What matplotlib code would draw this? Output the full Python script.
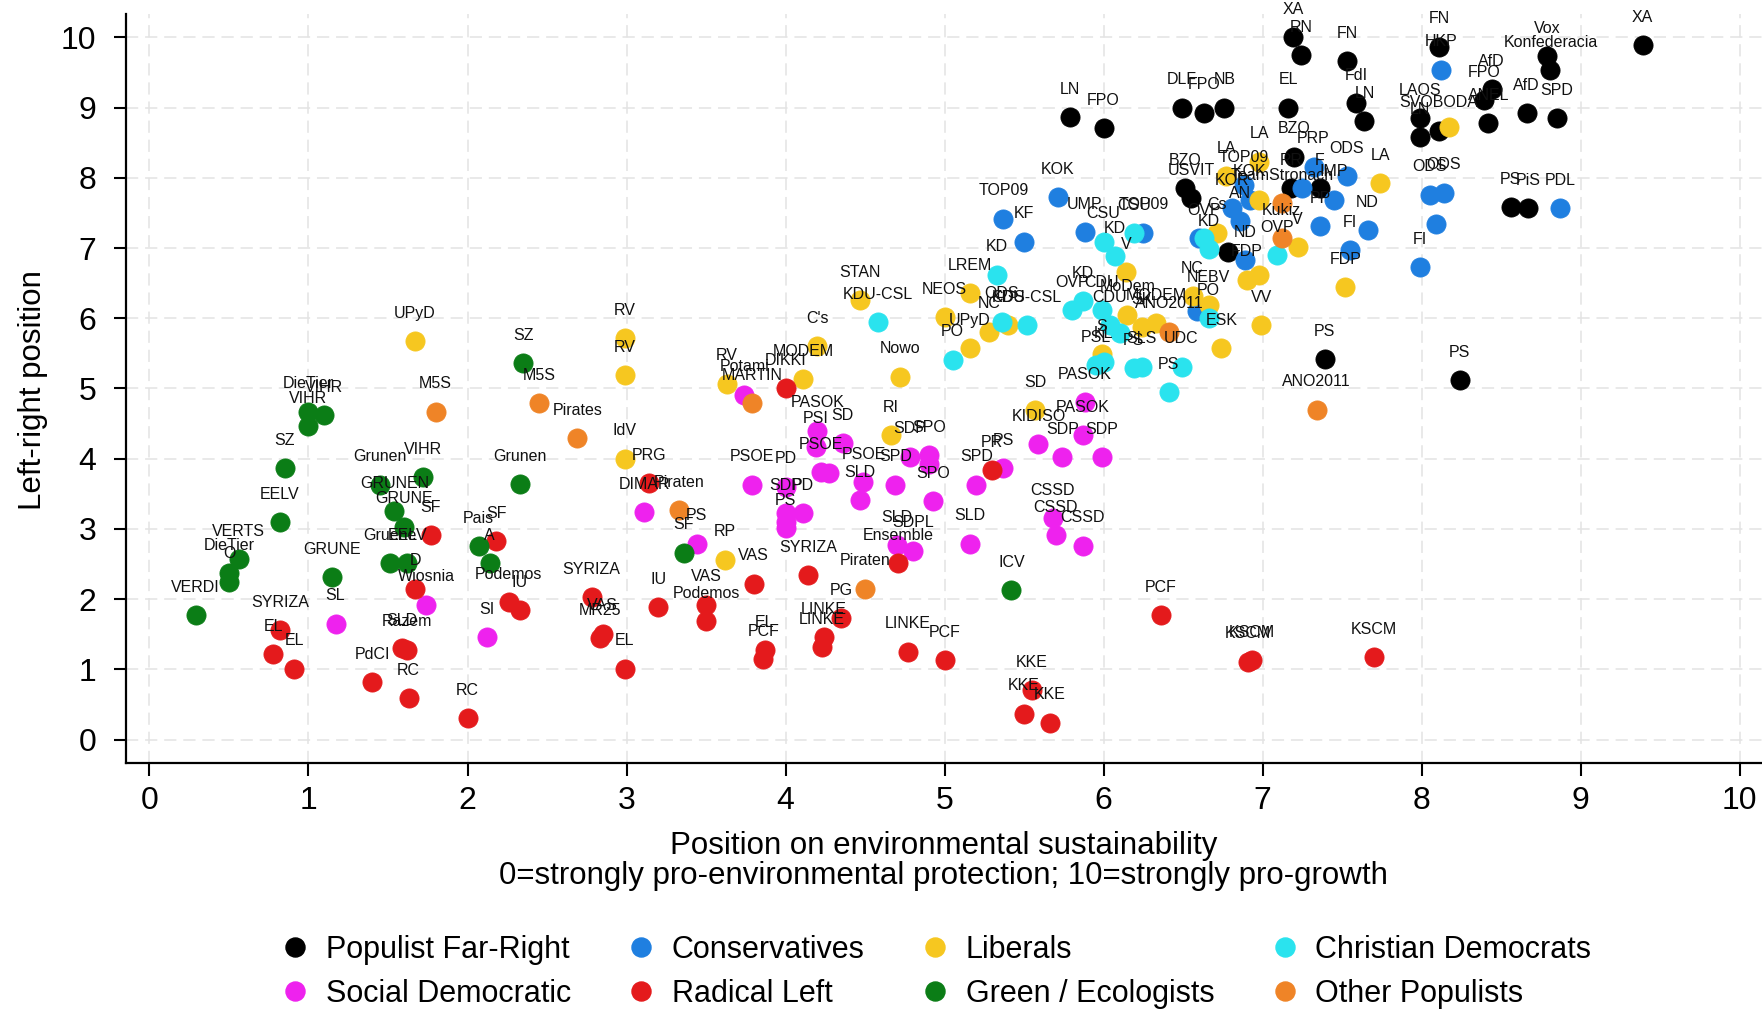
import matplotlib
matplotlib.use("Agg")
import matplotlib.pyplot as plt
from matplotlib.lines import Line2D

plt.rcParams['font.family'] = ['Liberation Sans', 'DejaVu Sans']

# ---------------- data ----------------
far_right_x = [7.19, 7.24, 7.53, 8.11, 8.79, 8.81, 9.39, 8.44, 8.39, 8.42, 8.66, 8.85, 7.99, 8.11, 7.99,
               7.59, 7.64, 7.16, 6.76, 6.63, 6.49, 5.79, 6.00, 6.51, 6.55, 7.20, 7.18, 7.36, 8.56, 8.67,
               7.39, 8.24, 6.78]
far_right_y = [10.00, 9.75, 9.66, 9.87, 9.73, 9.53, 9.89, 9.26, 9.11, 8.78, 8.92, 8.85, 8.85, 8.67, 8.58,
               9.06, 8.81, 9.00, 9.00, 8.93, 9.00, 8.86, 8.71, 7.85, 7.71, 8.30, 7.85, 7.85, 7.58, 7.57,
               5.42, 5.12, 6.95]
far_right_lab = ["XA", "RN", "FN", "FN", "Vox", "Konfederacia", "XA", "AfD", "FPO", "ANEL", "AfD", "SPD",
                 "LAOS", "SVOBODA", "LN", "FdI", "LN", "EL", "NB", "FPO", "DLF", "LN", "FPO", "BZO", "USVIT",
                 "BZO", "RR", "F", "PS", "PiS", "PS", "PS", ""]

cons_x = [8.12, 8.05, 8.14, 8.09, 7.99, 8.87, 7.53, 7.66, 7.55, 5.71, 5.37, 5.50, 5.88, 6.25, 7.32,
          7.25, 7.45, 7.36, 6.92, 6.81, 6.86, 6.89, 6.88, 6.59, 6.60]
cons_y = [9.54, 7.76, 7.79, 7.34, 6.73, 7.57, 8.02, 7.25, 6.97, 7.72, 7.42, 7.09, 7.23, 7.22, 8.16,
          7.85, 7.69, 7.31, 7.69, 7.57, 7.38, 6.83, 7.90, 6.10, 7.14]
cons_lab = ["HKP", "ODS", "ODS", "", "FI", "PDL", "ODS", "ND", "FI", "KOK", "TOP09", "KF", "UMP", "TOP09",
            "PRP", "", "IMP", "PP", "KOK", "KOR", "AN", "ND", "TOP09", "", ""]

lib_x = [8.17, 7.74, 7.52, 1.67, 2.99, 2.99, 2.99, 3.62, 3.63, 4.20, 4.11, 4.66, 4.72, 4.47, 5.00,
         5.16, 5.16, 5.28, 5.40, 6.14, 5.57, 5.99, 6.24, 6.33, 6.15, 6.74, 6.99, 6.56, 6.66, 6.90,
         6.98, 7.22, 6.98, 6.77, 6.98, 6.71]
lib_y = [8.73, 7.92, 6.44, 5.67, 5.72, 5.19, 4.00, 2.56, 5.07, 5.60, 5.13, 4.34, 5.17, 6.26, 6.02,
         5.57, 6.36, 5.81, 5.90, 6.66, 4.69, 5.49, 5.87, 5.93, 6.05, 5.57, 5.90, 6.31, 6.19, 6.55,
         6.62, 7.01, 8.23, 8.02, 7.69, 7.22]
lib_lab = ["", "LA", "FDP", "UPyD", "RV", "RV", "IdV", "RP", "RV", "C's", "MODEM", "RI", "Nowo", "STAN",
           "NEOS", "UPyD", "LREM", "NC", "CDS", "V", "SD", "S", "SK", "MODEM", "MoDem", "ESK", "VV",
           "NC", "NEBV", "FDP", "", "V", "LA", "LA", "", "Cs"]

cd_x = [6.00, 6.19, 6.07, 5.33, 4.58, 5.05, 5.36, 5.52, 5.80, 5.87, 5.99, 6.04, 6.10, 5.95, 6.00,
        6.19, 6.24, 6.49, 6.41, 6.66, 7.09, 6.63, 6.66]
cd_y = [7.09, 7.21, 6.88, 6.62, 5.94, 5.41, 5.95, 5.90, 6.12, 6.24, 6.12, 5.90, 5.79, 5.33, 5.38,
        5.29, 5.31, 5.31, 4.95, 6.00, 6.90, 7.14, 6.98]
cd_lab = ["CSU", "CSU", "KD", "KD", "KDU-CSL", "PO", "ODS", "KDU-CSL", "OVP", "KD", "CDU", "CDU", "",
          "PSL", "KL", "PS", "SLS", "UDC", "PS", "PO", "OVP", "OVP", "KD"]

socdem_x = [1.17, 1.74, 2.12, 3.74, 3.11, 3.44, 3.79, 4.00, 4.00, 4.00, 4.00, 4.11, 4.20, 4.19, 4.36,
            4.22, 4.27, 4.49, 4.47, 4.69, 4.78, 4.90, 4.90, 4.93, 4.70, 4.80, 5.20, 5.37, 5.16, 5.59,
            5.88, 5.87, 5.99, 5.74, 5.68, 5.70, 5.87]
socdem_y = [1.65, 1.92, 1.46, 4.91, 3.24, 2.79, 3.63, 3.60, 3.22, 3.10, 3.01, 3.22, 4.40, 4.17, 4.22,
            3.81, 3.79, 3.67, 3.41, 3.63, 4.03, 4.05, 3.93, 3.39, 2.77, 2.69, 3.63, 3.86, 2.79, 4.21,
            4.81, 4.34, 4.02, 4.02, 3.15, 2.91, 2.76]
socdem_lab = ["SL", "Wiosnia", "SI", "Potami", "DIMAR", "PS", "PSOE", "PD", "SDP", "", "PS", "PD",
              "PASOK", "PSI", "SD", "PSOE", "", "PSOE", "SLD", "SPD", "SDP", "SPO", "", "SPO", "SLD",
              "SDPL", "SPD", "PS", "SLD", "KIDISO", "PASOK", "PASOK", "SDP", "SDP", "CSSD", "CSSD", "CSSD"]

radleft_x = [0.82, 0.78, 0.91, 1.40, 1.59, 1.62, 1.67, 1.77, 2.18, 2.26, 2.33, 1.63, 2.00, 2.78, 2.85,
             2.83, 2.99, 3.14, 3.20, 3.50, 3.50, 3.80, 4.14, 3.87, 3.86, 4.00, 4.24, 4.23, 4.35, 4.71,
             4.77, 5.00, 5.30, 5.55, 5.50, 5.66, 6.36, 6.91, 6.93, 7.70]
radleft_y = [1.56, 1.22, 1.01, 0.82, 1.30, 1.28, 2.15, 2.91, 2.83, 1.96, 1.84, 0.59, 0.30, 2.03, 1.51,
             1.44, 1.01, 3.65, 1.89, 1.92, 1.69, 2.22, 2.34, 1.27, 1.14, 5.00, 1.46, 1.32, 1.73, 2.51,
             1.25, 1.13, 3.84, 0.70, 0.37, 0.24, 1.77, 1.11, 1.13, 1.17]
radleft_lab = ["SYRIZA", "EL", "EL", "PdCI", "SLD", "Razem", "D", "SF", "SF", "Podemos", "IU", "RC", "RC",
               "SYRIZA", "VAS", "MR25", "EL", "PRG", "IU", "VAS", "Podemos", "VAS", "SYRIZA", "EL", "PCF",
               "DIKKI", "LINKE", "LINKE", "PG", "Ensemble", "LINKE", "PCF", "PR", "KKE", "KKE", "KKE",
               "PCF", "KSCM", "KSCM", "KSCM"]

green_x = [1.00, 1.10, 1.00, 0.85, 0.82, 0.56, 0.50, 0.50, 0.29, 1.15, 1.45, 1.54, 1.60, 1.51, 1.62,
           1.72, 2.35, 2.33, 2.07, 2.14, 3.36, 5.42]
green_y = [4.67, 4.62, 4.46, 3.86, 3.10, 2.57, 2.37, 2.25, 1.77, 2.31, 3.63, 3.25, 3.03, 2.51, 2.51,
           3.74, 5.36, 3.64, 2.75, 2.51, 2.66, 2.13]
green_lab = ["DieTier", "VIHR", "VIHR", "SZ", "EELV", "VERTS", "DieTier", "O", "VERDI", "GRUNE", "Grunen",
             "GRUNEN", "GRUNE", "Gruene", "EELV", "VIHR", "SZ", "Grunen", "Pais", "A", "SF", "ICV"]

otherpop_x = [1.80, 2.45, 2.69, 3.33, 3.79, 4.50, 6.41, 7.34, 7.12, 7.12]
otherpop_y = [4.67, 4.79, 4.29, 3.27, 4.79, 2.15, 5.81, 4.70, 7.64, 7.14]
otherpop_lab = ["M5S", "M5S", "Pirates", "Piraten", "MARTIN", "Piraten", "ANO2011", "ANO2011",
                "TeamStronach", "Kukiz"]

groups = [
    ("Populist Far-Right", "#000000", far_right_x, far_right_y, far_right_lab),
    ("Conservatives", "#1f7fe0", cons_x, cons_y, cons_lab),
    ("Liberals", "#f6c720", lib_x, lib_y, lib_lab),
    ("Christian Democrats", "#2ae3ee", cd_x, cd_y, cd_lab),
    ("Social Democratic", "#ee22ee", socdem_x, socdem_y, socdem_lab),
    ("Radical Left", "#e41a1c", radleft_x, radleft_y, radleft_lab),
    ("Green / Ecologists", "#0b7d16", green_x, green_y, green_lab),
    ("Other Populists", "#ef8427", otherpop_x, otherpop_y, otherpop_lab),
]

ticks = list(range(0, 11))

# ---------------- figure ----------------
W, H = 1762, 1011
fig = plt.figure(figsize=(W / 100, H / 100), dpi=100)
left = 125.6 / W
bottom = 1 - 762.7 / H
top = 1 - 13.5 / H
ax = fig.add_axes([left, bottom, 1.0 - left, top - bottom])

for name, col, xs, ys, labs in groups:
    ax.scatter(xs, ys, s=190, color=col, edgecolors=col, linewidths=0.6, zorder=3)
    for x, y, lab in zip(xs, ys, labs):
        if lab:
            ax.annotate(lab, (x, y), xytext=(0, 20), textcoords='offset points',
                        ha='center', va='center', fontsize=11.5, color='#111111', zorder=4)

ax.set_xlim(-0.15, 10.14)
ax.set_ylim(-0.33, 10.34)
ax.set_xticks(ticks)
ax.set_yticks(ticks)
ax.grid(True, color='#e3e3e3', linestyle=(0, (8, 4.5)), linewidth=1.1, zorder=0)
ax.set_axisbelow(True)
for s in ['top', 'right']:
    ax.spines[s].set_visible(False)
for s in ['left', 'bottom']:
    ax.spines[s].set_linewidth(1.6)
ax.tick_params(axis='both', labelsize=23, length=9, width=1.5, direction='out')
ax.tick_params(axis='x', pad=8)
ax.tick_params(axis='y', pad=12)

fig.text(0.5356, 1 - 861 / H,
         "Position on environmental sustainability\n0=strongly pro-environmental protection; 10=strongly pro-growth",
         ha='center', va='center', fontsize=22.5, linespacing=1.0)
fig.text(0.019, 1 - 390 / H, "Left-right position", rotation=90, ha='center', va='center', fontsize=22.5)

handles = [Line2D([0], [0], marker='o', linestyle='none', markersize=13.7,
                  markerfacecolor=col, markeredgecolor=col, label=name)
           for name, col, *_ in groups]
order = [0, 4, 1, 5, 2, 6, 3, 7]
fig.legend([handles[i] for i in order], [groups[i][0] for i in order],
           loc='center', bbox_to_anchor=(0.531, 1 - 972 / H), ncol=4, frameon=False,
           fontsize=22, handlelength=1.0, handletextpad=0.5, columnspacing=1.8,
           labelspacing=0.45)

fig.savefig("out.png", dpi=100)
